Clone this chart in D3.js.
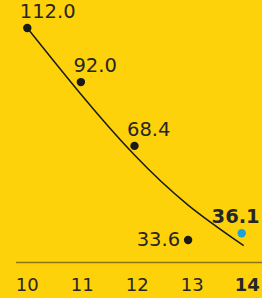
<!DOCTYPE html>
<html>
<head>
<meta charset="utf-8">
<script src="https://cdn.jsdelivr.net/npm/d3@7"></script>
<style>
  html, body { margin: 0; padding: 0; background: #fed20b; }
  svg { display: block; }
  text { font-family: "DejaVu Sans", Verdana, sans-serif; fill: #262626; }
</style>
</head>
<body>
<svg id="chart" width="262" height="298"></svg>
<script>
const years = [10, 11, 12, 13, 14];
const values = [112.0, 92.0, 68.4, 33.6, 36.1];
const valueLabels = ["112.0", "92.0", "68.4", "33.6", "36.1"];
const trend = [112.0, 87.5, 65.0, 46.5, 31.5];
const tickLabels = ["10", "11", "12", "13", "14"];

const W = 262, H = 298;
const svg = d3.select("#chart");

svg.append("rect").attr("width", W).attr("height", H).attr("fill", "#fed20b");

const x = d3.scaleLinear().domain([10, 14]).range([27.3, 241.7]);
const xLab = d3.scaleLinear().domain([10, 14]).range([27.3, 247.3]);
const y = d3.scaleLinear().domain([33.6, 112]).range([240, 28]);

// axis baseline
svg.append("line")
  .attr("x1", 16).attr("x2", W)
  .attr("y1", 262.5).attr("y2", 262.5)
  .attr("stroke", "#8c7613").attr("stroke-width", 1.6);

// tick labels
svg.selectAll("text.tick").data(years).join("text")
  .attr("class", "tick")
  .attr("x", d => xLab(d))
  .attr("y", 290.5)
  .attr("text-anchor", "middle")
  .style("font-size", "18px")
  .style("font-weight", (d, i) => i === years.length - 1 ? "bold" : "normal")
  .text((d, i) => tickLabels[i]);

// trend curve
const line = d3.line()
  .x((d, i) => x(years[i]) + (i === years.length - 1 ? 2 : 0))
  .y(d => y(d))
  .curve(d3.curveNatural);
svg.append("path")
  .datum(trend)
  .attr("d", line)
  .attr("fill", "none")
  .attr("stroke", "#1a1a1a")
  .attr("stroke-width", 1.5);

// points
svg.selectAll("circle.pt").data(values).join("circle")
  .attr("class", "pt")
  .attr("cx", (d, i) => x(years[i]))
  .attr("cy", d => y(d))
  .attr("r", 4.2)
  .attr("fill", (d, i) => i === values.length - 1 ? "#1da1d8" : "#1a1a1a");

// value labels
svg.selectAll("text.val").data(values).join("text")
  .attr("class", "val")
  .attr("x", (d, i) => {
    if (i === 3) return x(years[i]) - 8;
    if (i === 4) return x(years[i]) + 18;
    return x(years[i]) - 7.5;
  })
  .attr("y", (d, i) => i === 3 ? y(d) + 6 : y(d) - 10)
  .attr("text-anchor", (d, i) => (i >= 3) ? "end" : "start")
  .style("font-size", "19.5px")
  .style("font-weight", (d, i) => i === values.length - 1 ? "bold" : "normal")
  .text((d, i) => valueLabels[i]);
</script>
</body>
</html>
